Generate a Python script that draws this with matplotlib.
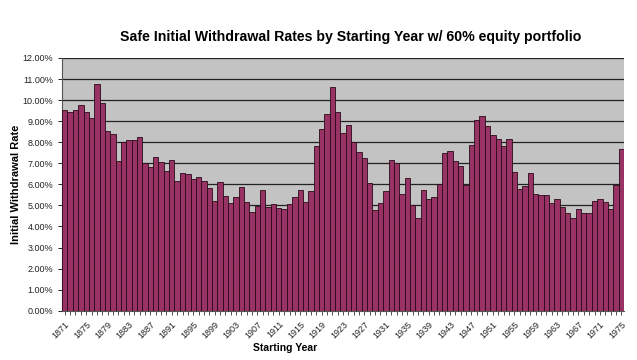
"""
Safe initial withdrawal rates by starting year, 60% equity portfolio
"""
import numpy as np
import matplotlib
matplotlib.use("Agg")
import matplotlib.pyplot as plt
from matplotlib.ticker import FuncFormatter, MultipleLocator

years = list(range(1871, 1976))
rates = [
    9.55, 9.43, 9.54, 9.76, 9.43, 9.14, 10.76, 9.86, 8.54, 8.38,   # 1871-1880
    7.12, 8.00, 8.11, 8.11, 8.24, 7.00, 6.80, 7.32, 7.07, 6.61,    # 1881-1890
    7.15, 6.18, 6.56, 6.47, 6.24, 6.34, 6.16, 5.82, 5.21, 6.09,    # 1891-1900
    5.45, 5.10, 5.39, 5.86, 5.15, 4.68, 4.98, 5.74, 4.90, 5.07,    # 1901-1910
    4.87, 4.83, 5.07, 5.39, 5.74, 5.15, 5.66, 7.84, 8.62, 9.35,    # 1911-1920
    10.60, 9.43, 8.43, 8.83, 7.99, 7.54, 7.26, 6.05, 4.79, 5.13,   # 1921-1930
    5.66, 7.16, 7.00, 5.55, 6.32, 5.02, 4.42, 5.74, 5.29, 5.39,    # 1931-1940
    6.02, 7.48, 7.56, 7.13, 6.88, 5.96, 7.86, 9.06, 9.26, 8.78,    # 1941-1950
    8.34, 8.13, 7.80, 8.15, 6.59, 5.78, 5.94, 6.56, 5.53, 5.47,    # 1951-1960
    5.47, 5.10, 5.32, 4.90, 4.63, 4.42, 4.83, 4.63, 4.63, 5.21,    # 1961-1970
    5.28, 5.15, 4.85, 5.99, 7.67,                                  # 1971-1975
]
tick_years = list(range(1871, 1976, 4))

plt.rcParams["font.family"] = ["Liberation Sans", "DejaVu Sans"]

fig = plt.figure(figsize=(6.37, 3.6), dpi=100)
ax = fig.add_axes([0.0975, 0.137, 0.882, 0.702])

ax.bar(years, rates, width=1.0, color="#993366", edgecolor="#2a0a18",
       linewidth=0.6, zorder=3)

ax.set_facecolor("#c3c3c3")
ax.set_xlim(years[0] - 0.5, years[-1] + 0.5)
ax.set_ylim(0, 12)
ax.yaxis.set_major_locator(MultipleLocator(1))
ax.yaxis.set_major_formatter(FuncFormatter(lambda v, p: f"{v:.2f}%"))
ax.grid(axis="y", color="#222222", linewidth=0.9, zorder=1)

ax.set_xticks(tick_years)
ax.set_xticklabels([str(y) for y in tick_years], rotation=45, ha="right",
                   rotation_mode="anchor")
ax.set_xticks(years, minor=True)
ax.tick_params(axis="x", which="both", length=3, width=0.6, labelsize=6.5,
               color="#333333", labelcolor="#222222")
ax.tick_params(axis="y", length=3, width=0.6, labelsize=6.5,
               labelcolor="#222222")

for side in ["top", "right"]:
    ax.spines[side].set_visible(False)
ax.spines["left"].set_color("#555555")
ax.spines["bottom"].set_color("#555555")

# Excel puts the axis title left of the plot centre
fig.text(0.447, 0.033, "Starting Year", ha="center", va="center",
         fontsize=7.5, fontweight="bold")
ax.set_ylabel("Initial Withdrawal Rate", fontsize=8, fontweight="bold",
              labelpad=1)
fig.text(0.551, 0.897, "Safe Initial Withdrawal Rates by Starting Year w/ 60% equity portfolio",
         ha="center", va="center", fontsize=10.2, fontweight="bold")

fig.savefig("out.png", dpi=100, facecolor="white")
